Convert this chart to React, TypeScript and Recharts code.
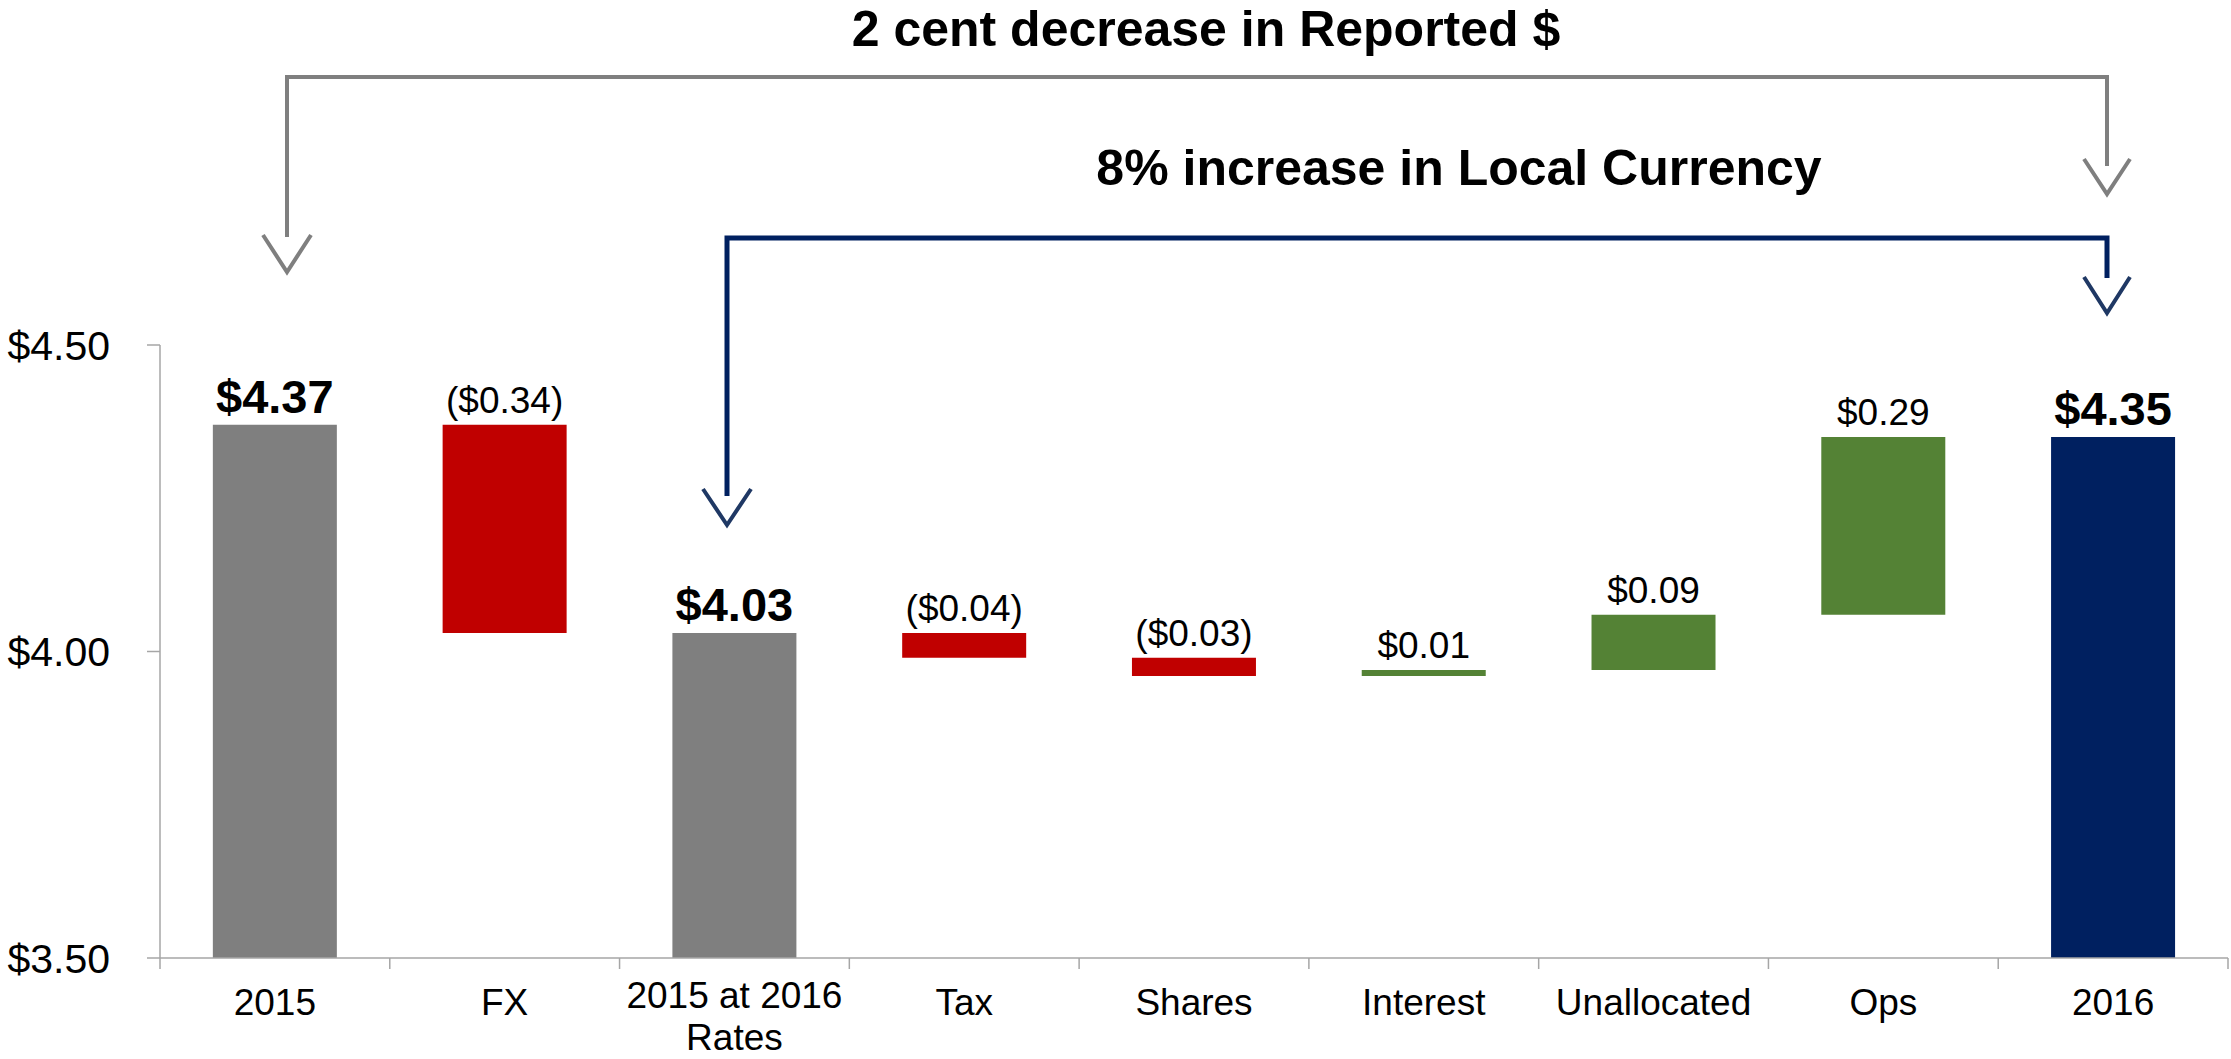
import { Bar, BarChart, Cell, LabelList, XAxis, YAxis } from "recharts";

const FONT = "'Liberation Sans', Arial, sans-serif";
const GRAY = "#7f7f7f";
const RED = "#c00000";
const GREEN = "#548235";
const NAVY = "#002060";
const AXIS = "#a6a6a6";

const W = 2231;
const H = 1059;
const MARGIN = { top: 345, right: 3, left: 0, bottom: 0 };
const Y_AXIS_W = 160;

const categories = ["2015", "FX", "2015 at 2016\nRates", "Tax", "Shares", "Interest", "Unallocated", "Ops", "2016"];
const amounts = [4.37, -0.34, 4.03, -0.04, -0.03, 0.01, 0.09, 0.29, 4.35];
const kinds = ["start", "step", "subtotal", "step", "step", "step", "step", "step", "end"];
const valueLabels = ["$4.37", "($0.34)", "$4.03", "($0.04)", "($0.03)", "$0.01", "$0.09", "$0.29", "$4.35"];
const yTicks = [3.5, 4.0, 4.5];
const Y_MIN = 3.5;
const Y_MAX = 4.5;

// waterfall: totals rise from the axis floor, steps float from the running level
let level = 0;
const rows = categories.map((name, i) => {
  const a = amounts[i];
  let range: [number, number];
  if (kinds[i] === "step") {
    const next = level + a;
    range = [Math.min(level, next), Math.max(level, next)];
    level = next;
  } else {
    range = [Y_MIN, a];
    level = a;
  }
  return { name, range, label: valueLabels[i] };
});

const band = (W - MARGIN.left - MARGIN.right - Y_AXIS_W) / categories.length;

function barColor(i: number) {
  if (kinds[i] === "end") return NAVY;
  if (kinds[i] !== "step") return GRAY;
  return amounts[i] < 0 ? RED : GREEN;
}

function ValueLabel(props: any) {
  const { x, y, width, value, index } = props;
  const bold = kinds[index] !== "step";
  return (
    <text
      x={Number(x) + Number(width) / 2}
      y={Number(y) - 12}
      textAnchor="middle"
      fontFamily={FONT}
      fontSize={bold ? 47 : 37}
      fontWeight={bold ? 700 : 400}
      fill="#000"
    >
      {value}
    </text>
  );
}

// category label plus the Excel-style tick marks between categories
function CategoryTick(props: any) {
  const { x, y, payload, index } = props;
  const left = x - band / 2;
  const right = x + band / 2;
  const lines = String(payload.value).split("\n");
  // two-line labels sit a little higher so the second line stays on the page
  const first = y + 57 - (lines.length - 1) * 7;
  return (
    <g>
      <line x1={left} x2={left} y1={y} y2={y + 11} stroke={AXIS} strokeWidth={1.5} />
      {index === categories.length - 1 && (
        <line x1={right} x2={right} y1={y} y2={y + 11} stroke={AXIS} strokeWidth={1.5} />
      )}
      <text x={x} y={first} textAnchor="middle" fontFamily={FONT} fontSize={37} fill="#000">
        {lines.map((ln, k) => (
          <tspan key={k} x={x} dy={k === 0 ? 0 : 42}>
            {ln}
          </tspan>
        ))}
      </text>
    </g>
  );
}

function Brackets() {
  return (
    <svg width={W} height={H} style={{ position: "absolute", left: 0, top: 0, pointerEvents: "none" }}>
      <text x={1206} y={46} textAnchor="middle" fontFamily={FONT} fontSize={50} fontWeight={700} fill="#000">
        2 cent decrease in Reported $
      </text>
      <text x={1459} y={185} textAnchor="middle" fontFamily={FONT} fontSize={50} fontWeight={700} fill="#000">
        8% increase in Local Currency
      </text>
      <path d="M287 237 V77 H2107 V166" fill="none" stroke={GRAY} strokeWidth={4} />
      <polyline points="263,235 287,272 311,235" fill="none" stroke={GRAY} strokeWidth={4} />
      <polyline points="2084,159 2107,194 2130,159" fill="none" stroke={GRAY} strokeWidth={4} />
      <path d="M727 496 V238 H2107 V278" fill="none" stroke={NAVY} strokeWidth={5} />
      <polyline points="703,489 727,525 751,489" fill="none" stroke="#1f3864" strokeWidth={4} />
      <polyline points="2084,277 2107,313 2130,277" fill="none" stroke="#1f3864" strokeWidth={4} />
    </svg>
  );
}

export default function App() {
  return (
    <div style={{ position: "absolute", left: 0, top: 0, width: W, height: H, background: "#fff" }}>
      <BarChart width={W} height={H} data={rows} margin={MARGIN} barCategoryGap="23%">
        <XAxis
          dataKey="name"
          interval={0}
          tick={<CategoryTick />}
          tickLine={false}
          tickSize={0}
          tickMargin={0}
          axisLine={{ stroke: AXIS, strokeWidth: 1.5 }}
          height={101}
        />
        <YAxis
          domain={[Y_MIN, Y_MAX]}
          ticks={yTicks}
          allowDataOverflow
          width={Y_AXIS_W}
          tickSize={13}
          tickMargin={37}
          tickFormatter={(v: number) => `$${v.toFixed(2)}`}
          tick={{ fontFamily: FONT, fontSize: 41, fill: "#000" }}
          tickLine={{ stroke: AXIS, strokeWidth: 1.5 }}
          axisLine={{ stroke: AXIS, strokeWidth: 1.5 }}
        />
        <Bar dataKey="range" isAnimationActive={false}>
          {rows.map((r, i) => (
            <Cell key={r.name} fill={barColor(i)} />
          ))}
          <LabelList dataKey="label" content={<ValueLabel />} />
        </Bar>
      </BarChart>
      <Brackets />
    </div>
  );
}
